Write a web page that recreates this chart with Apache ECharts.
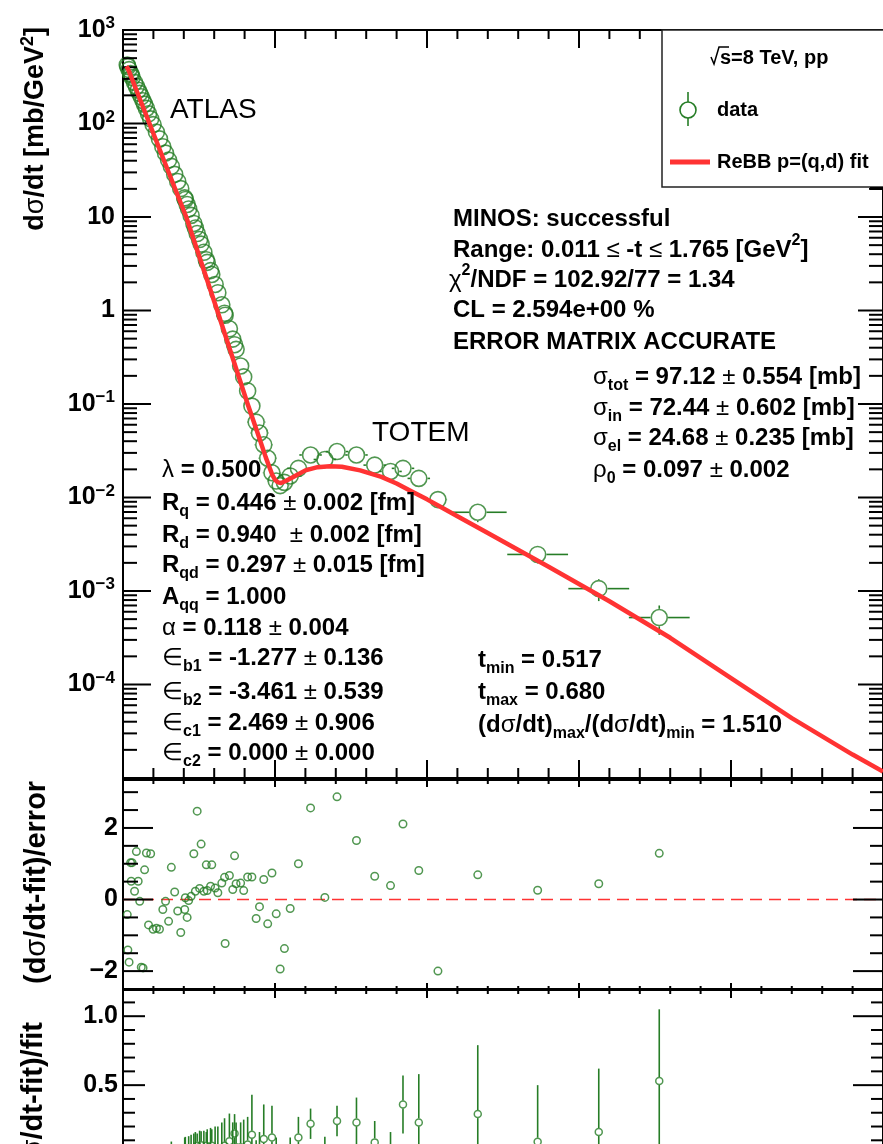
<!DOCTYPE html>
<html><head><meta charset="utf-8">
<script src="https://cdn.jsdelivr.net/npm/echarts@6/dist/echarts.min.js"></script>
<style>html,body{margin:0;padding:0;background:#fff}#c{width:883px;height:1144px}</style>
</head><body><div id="c"></div>
<script>
// ---------------- data ----------------
// -t [GeV^2] of each measured point
const tData = [0.014,0.016,0.020,0.025,0.027,0.030,0.038,0.044,0.050,0.055,
0.060,0.066,0.071,0.077,0.084,0.091,0.099,0.110,0.120,0.131,
0.140,0.150,0.159,0.170,0.180,0.190,0.203,0.205,0.211,0.216,
0.224,0.233,0.238,0.244,0.252,0.257,0.266,0.274,0.277,0.288,
0.292,0.303,0.312,0.325,0.334,0.336,0.350,0.361,0.367,0.372,
0.387,0.397,0.410,0.424,0.438,0.449,0.463,0.476,0.490,0.504,
0.517,0.531,0.550,0.577,0.617,0.664,0.704,0.768,0.828,0.880,
0.921,0.973,1.036,1.167,1.364,1.565,1.764];
// dsigma/dt [mb/GeV^2]
const dsdt = [423,406,377,342,330,311,275,250,227,210,
193,175,161,145,127,112,97.3,80.9,68.4,56.4,
48.2,40.6,34.8,28.6,24.0,20.1,16.0,15.4,13.6,12.2,
10.4,8.53,7.62,6.65,5.74,5.13,4.19,3.49,3.27,2.67,
2.43,1.90,1.55,1.15,0.933,0.891,0.637,0.494,0.431,0.384,
0.255,0.195,0.138,0.095,0.064,0.049,0.0367,0.0263,0.0184,0.0150,
0.0134,0.0145,0.0170,0.0205,0.0285,0.0255,0.031,0.0285,0.0222,0.019,
0.0205,0.016,0.0095,0.00695,0.00246,0.00106,0.00052];
const dsdtErr = [13,12,11,10,10,9,8,7,6,6,
5,5,4,4,3.3,2.9,2.5,2.0,1.7,1.4,
1.1,0.95,0.8,0.65,0.53,0.44,0.35,0.33,0.29,0.26,
0.22,0.18,0.16,0.14,0.12,0.11,0.09,0.07,0.07,0.055,
0.05,0.04,0.032,0.024,0.02,0.019,0.014,0.011,0.01,0.009,
0.007,0.006,0.005,0.004,0.004,0.0035,0.003,0.0025,0.0022,0.002,
0.0019,0.002,0.002,0.0022,0.0025,0.0025,0.003,0.003,0.0025,0.0022,
0.0025,0.0022,0.0012,0.0015,0.0005,0.00028,0.00018];
const tErr = [0,0,0,0,0,0,0,0,0,0,
0,0,0,0,0,0,0,0,0,0,
0,0,0,0,0,0,0,0,0,0,
0,0,0,0,0,0,0,0,0,0,
0,0,0,0,0,0,0,0,0,0,
0,0,0,0,0.03,0.03,0.03,0.03,0.03,0.03,
0.03,0.03,0.037,0.037,0.037,0.037,0.037,0.037,0.037,0.037,
0.037,0.037,0.03,0.095,0.1,0.1,0.1];
// (dsigma/dt - fit)/error
const pull = [-0.42,-1.41,-1.75,1.03,0.51,1.03,0.23,1.34,0.51,-0.05,
-1.89,-1.91,0.83,1.30,-0.71,1.28,-0.83,-0.80,-0.83,-0.28,
-0.05,-0.61,0.90,0.21,-0.32,-0.92,-0.28,0.05,-0.50,-0.03,
0.09,1.28,0.23,2.47,0.31,1.55,0.23,0.97,0.25,0.37,
0.97,0.32,0.19,0.46,0.62,-1.23,0.67,0.28,1.22,0.44,
0.46,0.25,0.63,0.63,-0.53,-0.20,0.56,-0.68,0.74,-0.40,
-1.94,-1.37,-0.25,1.00,2.56,0.06,2.87,1.65,0.65,0.39,
2.11,0.81,-2.00,0.69,0.26,0.44,1.29];
// (dsigma/dt - fit)/fit and its error
const relDiff = [-0.01,-0.03,-0.035,0.02,0.01,0.02,0.005,0.03,0.012,-0.001,
-0.05,-0.05,0.022,0.036,-0.02,0.04,-0.027,-0.028,-0.03,-0.011,
-0.002,-0.028,0.043,0.01,-0.017,-0.05,-0.03,0.005,-0.05,0,
0.01,0.04,0.02,0.06,0.03,0.065,0.02,0.06,0.02,0.03,
0.06,0.03,0.02,0.04,0.06,-0.1,0.094,0.03,0.15,0.05,
0.05,0.03,0.07,0.14,-0.1,-0.04,0.11,-0.15,0.12,-0.08,
-0.3,-0.25,-0.04,0.12,0.22,0.005,0.24,0.23,0.085,0.04,
0.36,0.23,-0.35,0.29,0.09,0.16,0.53];
const relErr = [0.02,0.02,0.02,0.02,0.02,0.02,0.02,0.022,0.023,0.025,
0.025,0.026,0.027,0.028,0.03,0.031,0.033,0.035,0.038,0.04,
0.043,0.046,0.048,0.05,0.053,0.056,0.15,0.12,0.12,0.13,
0.13,0.11,0.14,0.09,0.14,0.1,0.15,0.1,0.16,0.16,
0.12,0.17,0.18,0.19,0.2,0.12,0.2,0.2,0.14,0.18,
0.18,0.22,0.2,0.29,0.2,0.2,0.25,0.22,0.23,0.2,
0.15,0.18,0.16,0.15,0.11,0.12,0.11,0.18,0.155,0.12,
0.21,0.35,0.17,0.5,0.41,0.46,0.52];
// ReBB fit curve
const fitT = [0.011,0.016,0.05,0.10,0.15,0.208,0.26,0.31,0.36,0.41,0.44,0.47,0.49,0.50,0.51,0.52,0.535,0.56,0.60,0.64,0.68,0.72,0.78,0.85,0.90,0.95,1.00,1.041,1.1,1.2,1.4,1.6,1.8,2.0,2.2,2.4,2.5];
const fitV = [410,388,203,78.2,30.1,10,3.09,1.0,0.316,0.1,0.0522,0.0267,0.0178,0.0155,0.0145,0.0143,0.0150,0.0166,0.0195,0.0211,0.0216,0.0213,0.0195,0.0166,0.0141,0.0116,0.00955,0.00805,0.0063,0.00417,0.00182,7.76e-4,3.16e-4,1.17e-4,4.37e-5,1.78e-5,1.17e-5];

// ---------------- styling ----------------
const FF = "'Liberation Sans', Arial, Helvetica, sans-serif";
const GREEN = '#267d26';
const RED = '#ff3333';

// ---------------- tick definitions (ROOT-like frame ticks) ----------------
const mainTicks = [];
for (let k = 0; k <= 25; k++) {
  const v = k / 10, maj = k % 5 === 0;
  mainTicks.push({ax:'x', v, side:'b', len: maj ? 18 : 10});
  mainTicks.push({ax:'x', v, side:'t', len: maj ? 18 : 9});
}
for (let e = -5; e <= 2; e++) for (let m = 1; m <= 9; m++) {
  const v = m * Math.pow(10, e);
  mainTicks.push({ax:'y', v, side:'l', len: m === 1 ? 28 : 14});
  mainTicks.push({ax:'y', v, side:'r', len: m === 1 ? 25 : 14});
}
mainTicks.push({ax:'y', v:1000, side:'l', len:28}, {ax:'y', v:1000, side:'r', len:25});

const resTicks = [];
for (let k = 0; k <= 25; k++) {
  const v = k / 10, maj = k % 5 === 0;
  resTicks.push({ax:'x', v, side:'t', len: maj ? 7 : 4});
  resTicks.push({ax:'x', v, side:'b', len: maj ? 6 : 3});
}
for (let k = -5; k <= 6; k++) {
  const v = k * 0.5, maj = k % 4 === 0;
  resTicks.push({ax:'y', v, side:'l', len: maj ? 30 : 15});
  resTicks.push({ax:'y', v, side:'r', len: maj ? 30 : 13});
}

const botTicks = [];
for (let k = 0; k <= 25; k++) {
  const v = k / 10, maj = k % 5 === 0;
  botTicks.push({ax:'x', v, side:'t', len: maj ? 8 : 4});
}
for (let k = -10; k <= 11; k++) {
  const v = k / 10, maj = k % 5 === 0;
  botTicks.push({ax:'y', v, side:'l', len: maj ? 22 : 12});
  botTicks.push({ax:'y', v, side:'r', len: maj ? 30 : 12});
}

function tickSeries(specs, gi, logY) {
  return {
    type: 'custom', xAxisIndex: gi, yAxisIndex: gi, silent: true, z: 4, clip: false,
    data: specs.map(s => [s.ax === 'x' ? s.v : 0.5, s.ax === 'y' ? s.v : (logY ? 1 : 0)]),
    encode: {x: 0, y: 1},
    renderItem: function (params, api) {
      const s = specs[params.dataIndex];
      const cs = params.coordSys;
      let shape;
      if (s.ax === 'x') {
        const px = api.coord([s.v, logY ? 1 : 0])[0];
        if (s.side === 'b') { const yb = cs.y + cs.height; shape = {x1: px, y1: yb, x2: px, y2: yb - s.len}; }
        else shape = {x1: px, y1: cs.y, x2: px, y2: cs.y + s.len};
      } else {
        const py = api.coord([0.5, s.v])[1];
        if (s.side === 'l') shape = {x1: cs.x, y1: py, x2: cs.x + s.len, y2: py};
        else { const xr = cs.x + cs.width; shape = {x1: xr, y1: py, x2: xr - s.len, y2: py}; }
      }
      return {type: 'line', shape, style: {stroke: '#000', lineWidth: 2}};
    }
  };
}

function errSeries(gi, xs, ys, ey, ex, r, isLog) {
  return {
    type: 'custom', xAxisIndex: gi, yAxisIndex: gi, silent: true, z: 3, clip: true,
    data: xs.map((t, i) => [t, ys[i]]),
    encode: {x: 0, y: 1},
    renderItem: function (params, api) {
      const i = params.dataIndex;
      const x = api.value(0), y = api.value(1);
      const c = api.coord([x, y]);
      const kids = [];
      const st = {stroke: GREEN, lineWidth: 1.6};
      const e1 = ey ? (ey[i] || 0) : 0, e2 = ex ? (ex[i] || 0) : 0;
      if (e1 > 0) {
        const top = api.coord([x, y + e1])[1];
        const lo = y - e1;
        const bot = (!isLog || lo > 0) ? api.coord([x, lo])[1] : c[1] + 2000;
        if (c[1] - top > r) kids.push({type: 'line', shape: {x1: c[0], y1: top, x2: c[0], y2: c[1] - r}, style: st});
        if (bot - c[1] > r) kids.push({type: 'line', shape: {x1: c[0], y1: c[1] + r, x2: c[0], y2: bot}, style: st});
      }
      if (e2 > 0) {
        const L = api.coord([x - e2, y])[0], R = api.coord([x + e2, y])[0];
        if (c[0] - L > r) kids.push({type: 'line', shape: {x1: L, y1: c[1], x2: c[0] - r, y2: c[1]}, style: st});
        if (R - c[0] > r) kids.push({type: 'line', shape: {x1: c[0] + r, y1: c[1], x2: R, y2: c[1]}, style: st});
      }
      return {type: 'group', children: kids};
    }
  };
}

// ---------------- text helpers ----------------
const RICH = {
  b:   {fontFamily: FF, fontSize: 24, fontWeight: 'bold', fill: '#000', lineHeight: 34},
  s:   {fontFamily: FF, fontSize: 24, fontWeight: 'normal', fill: '#000', lineHeight: 34},
  sub: {fontFamily: FF, fontSize: 16, fontWeight: 'bold', fill: '#000', lineHeight: 14, verticalAlign: 'bottom'},
  sup: {fontFamily: FF, fontSize: 16, fontWeight: 'bold', fill: '#000', lineHeight: 14, verticalAlign: 'top'}
};
const RICH_T = {
  b:   {fontFamily: FF, fontSize: 27, fontWeight: 'bold', fill: '#000', lineHeight: 34},
  s:   {fontFamily: FF, fontSize: 27, fontWeight: 'normal', fill: '#000', lineHeight: 34},
  sup: {fontFamily: FF, fontSize: 18, fontWeight: 'bold', fill: '#000', lineHeight: 14, verticalAlign: 'top'}
};
const RICH_T2 = {
  b:   {fontFamily: FF, fontSize: 29, fontWeight: 'bold', fill: '#000', lineHeight: 34},
  s:   {fontFamily: FF, fontSize: 29, fontWeight: 'normal', fill: '#000', lineHeight: 34}
};
function txt(x, y, text, rich, extra) {
  return Object.assign({
    type: 'text', x, y, z: 50, silent: true,
    style: {text, rich: rich || RICH, align: 'left', verticalAlign: 'middle',
            fontFamily: FF, fontSize: 24, fontWeight: 'bold', fill: '#000'}
  }, extra || {});
}
function plain(x, y, text, size, weight) {
  return {type: 'text', x, y, z: 50, silent: true,
    style: {text, fontFamily: FF, fontSize: size, fontWeight: weight, fill: '#000', align: 'left', verticalAlign: 'middle'}};
}

const graphics = [
  // axis titles
  txt(36, 27, '', RICH_T, {rotation: Math.PI / 2, style: {text: '{b|d}{s|σ}{b|/dt [mb/GeV}{sup|2}{b|]}', rich: RICH_T, align: 'right', verticalAlign: 'middle'}}),
  txt(37, 984, '', RICH_T2, {rotation: Math.PI / 2, style: {text: '{b|(d}{s|σ}{b|/dt-fit)/error}', rich: RICH_T2, align: 'left', verticalAlign: 'middle'}}),
  {type: 'rect', z: 51, silent: true, shape: {x: 10, y: 760, width: 60, height: 19}, style: {fill: '#fff'}},
  txt(34, 1022, '', RICH_T2, {rotation: Math.PI / 2, style: {text: '{b|(d}{s|σ}{b|/dt-fit)/fit}', rich: RICH_T2, align: 'right', verticalAlign: 'middle'}}),
  // labels
  plain(170, 110, 'ATLAS', 28, 'normal'),
  plain(372, 433, 'TOTEM', 28, 'normal'),
  // fit info block
  txt(453, 219, '{b|MINOS: successful}'),
  txt(453, 250, '{b|Range: 0.011 }{s|≤}{b| -t }{s|≤}{b| 1.765 [GeV}{sup|2}{b|]}'),
  txt(449, 280, '{s|χ}{sup|2}{b|/NDF = 102.92/77 = 1.34}'),
  txt(453, 310, '{b|CL = 2.594e+00 %}'),
  txt(453, 342, '{b|ERROR MATRIX ACCURATE}'),
  txt(593, 377, '{s|σ}{sub|tot}{b| = 97.12 }{s|±}{b| 0.554 [mb]}'),
  txt(593, 408, '{s|σ}{sub|in}{b| = 72.44 }{s|±}{b| 0.602 [mb]}'),
  txt(593, 438, '{s|σ}{sub|el}{b| = 24.68 }{s|±}{b| 0.235 [mb]}'),
  txt(593, 470, '{s|ρ}{sub|0}{b| = 0.097 }{s|±}{b| 0.002}'),
  // parameters block
  txt(162, 470, '{s|λ}{b| = 0.500}'),
  txt(162, 503, '{b|R}{sub|q}{b| = 0.446 }{s|±}{b| 0.002 [fm]}'),
  txt(162, 535, '{b|R}{sub|d}{b| = 0.940  }{s|±}{b| 0.002 [fm]}'),
  txt(162, 565, '{b|R}{sub|qd}{b| = 0.297 }{s|±}{b| 0.015 [fm]}'),
  txt(162, 597, '{b|A}{sub|qq}{b| = 1.000}'),
  txt(162, 628, '{s|α}{b| = 0.118 }{s|±}{b| 0.004}'),
  txt(162, 658, '{s|∈}{sub|b1}{b| = -1.277 }{s|±}{b| 0.136}'),
  txt(162, 692, '{s|∈}{sub|b2}{b| = -3.461 }{s|±}{b| 0.539}'),
  txt(162, 723, '{s|∈}{sub|c1}{b| = 2.469 }{s|±}{b| 0.906}'),
  txt(162, 753, '{s|∈}{sub|c2}{b| = 0.000 }{s|±}{b| 0.000}'),
  // dip / bump block
  txt(478, 660, '{b|t}{sub|min}{b| = 0.517}'),
  txt(478, 692, '{b|t}{sub|max}{b| = 0.680}'),
  txt(478, 725, '{b|(d}{s|σ}{b|/dt)}{sub|max}{b|/(d}{s|σ}{b|/dt)}{sub|min}{b| = 1.510}'),
  // legend
  {type: 'rect', z: 60, silent: true, shape: {x: 662, y: 30, width: 240, height: 157}, style: {fill: '#fff', stroke: '#222', lineWidth: 1.5}},
  {type: 'rect', z: 60, silent: true, shape: {x: 870, y: 187, width: 14, height: 3}, style: {fill: '#000'}},
  {type: 'polyline', z: 61, silent: true, shape: {points: [[711, 57], [714, 64], [719, 47], [729, 47]]}, style: {stroke: '#000', lineWidth: 1.5, fill: null}},
  Object.assign(plain(720, 58, 's=8 TeV, pp', 20, 'bold'), {z: 61}),
  {type: 'circle', z: 61, silent: true, shape: {cx: 688, cy: 110, r: 8}, style: {fill: 'none', stroke: GREEN, lineWidth: 1.6}},
  {type: 'line', z: 61, silent: true, shape: {x1: 688, y1: 92, x2: 688, y2: 102}, style: {stroke: GREEN, lineWidth: 1.6}},
  {type: 'line', z: 61, silent: true, shape: {x1: 688, y1: 118, x2: 688, y2: 126}, style: {stroke: GREEN, lineWidth: 1.6}},
  Object.assign(plain(717, 110, 'data', 20, 'bold'), {z: 61}),
  {type: 'line', z: 61, silent: true, shape: {x1: 670, y1: 162, x2: 710, y2: 162}, style: {stroke: RED, lineWidth: 5}},
  Object.assign(plain(717, 162, 'ReBB p=(q,d) fit', 20, 'bold'), {z: 61})
];

// ---------------- chart ----------------
const chart = echarts.init(document.getElementById('c'), null, {renderer: 'canvas'});
const gridBase = {left: 123, width: 760, show: true, borderColor: '#000', borderWidth: 2, backgroundColor: 'transparent', containLabel: false, outerBoundsMode: 'none'};
const xBase = {type: 'value', min: 0, max: 2.5, axisLine: {show: false}, axisTick: {show: false}, axisLabel: {show: false}, splitLine: {show: false}};
const lblBase = {fontFamily: FF, fontSize: 25, fontWeight: 'bold', color: '#000'};

chart.setOption({
  animation: false,
  backgroundColor: '#fff',
  textStyle: {fontFamily: FF},
  grid: [
    Object.assign({}, gridBase, {top: 30, height: 748}),
    Object.assign({}, gridBase, {top: 780, height: 209}),
    Object.assign({}, gridBase, {top: 990, height: 302})
  ],
  xAxis: [
    Object.assign({}, xBase, {gridIndex: 0}),
    Object.assign({}, xBase, {gridIndex: 1}),
    Object.assign({}, xBase, {gridIndex: 2})
  ],
  yAxis: [
    {type: 'log', gridIndex: 0, logBase: 10, min: 1e-5, max: 1e3, splitNumber: 8,
     axisLine: {show: false}, axisTick: {show: false}, splitLine: {show: false},
     axisLabel: {margin: 8, formatter: function (v) {
        const e = Math.round(Math.log10(v));
        if (Math.abs(Math.log10(v) - e) > 0.01 || e === -5) return '';
        if (e === 0) return '{b|1}';
        if (e === 1) return '{b|10}';
        return '{b|10}{sup|' + (e < 0 ? '−' : '') + Math.abs(e) + '}';
      },
      rich: {b: Object.assign({lineHeight: 30}, lblBase),
             sup: {fontFamily: FF, fontSize: 17, fontWeight: 'bold', color: '#000', lineHeight: 16, verticalAlign: 'top'}}}},
    {type: 'value', gridIndex: 1, min: -2.5, max: 3.34, interval: 0.5,
     axisLine: {show: false}, axisTick: {show: false}, splitLine: {show: false},
     axisLabel: Object.assign({margin: 5, formatter: function (v) {
        if (Math.abs(v - 2) < 1e-6) return '2';
        if (Math.abs(v) < 1e-6) return '0';
        if (Math.abs(v + 2) < 1e-6) return '−2';
        return '';
      }}, lblBase)},
    {type: 'value', gridIndex: 2, min: -1.0, max: 1.19, interval: 0.1,
     axisLine: {show: false}, axisTick: {show: false}, splitLine: {show: false},
     axisLabel: Object.assign({margin: 5, formatter: function (v) {
        const k = Math.round(v * 10);
        if (Math.abs(v * 10 - k) > 1e-6 || k % 5 !== 0 || k < 5) return '';
        return Math.abs(v).toFixed(1);
      }}, lblBase)}
  ],
  series: [
    // main panel
    {type: 'scatter', xAxisIndex: 0, yAxisIndex: 0, silent: true, z: 3,
     data: tData.map((t, i) => [t, dsdt[i]]), symbol: 'circle', symbolSize: 16,
     itemStyle: {color: 'rgba(0,0,0,0)', borderColor: GREEN, borderWidth: 1.6}},
    errSeries(0, tData, dsdt, dsdtErr, tErr, 8.8, true),
    {type: 'line', xAxisIndex: 0, yAxisIndex: 0, silent: true, z: 5, showSymbol: false, symbol: 'none',
     smooth: false, clip: true,
     data: fitT.map((t, i) => [t, fitV[i]]), lineStyle: {color: RED, width: 4.5, join: 'round'}},
    tickSeries(mainTicks, 0, true),
    // residual (pull) panel
    {type: 'line', xAxisIndex: 1, yAxisIndex: 1, silent: true, z: 2, symbol: 'none',
     data: [[0, 0], [2.5, 0]], lineStyle: {color: RED, width: 1.5, type: [12, 7]}},
    {type: 'scatter', xAxisIndex: 1, yAxisIndex: 1, silent: true, z: 3,
     data: tData.map((t, i) => [t, pull[i]]), symbol: 'circle', symbolSize: 7.5,
     itemStyle: {color: 'rgba(0,0,0,0)', borderColor: GREEN, borderWidth: 1.5}},
    tickSeries(resTicks, 1, false),
    // relative difference panel
    {type: 'line', xAxisIndex: 2, yAxisIndex: 2, silent: true, z: 2, symbol: 'none',
     data: [[0, 0], [2.5, 0]], lineStyle: {color: RED, width: 1.5, type: [12, 7]}},
    errSeries(2, tData, relDiff, relErr, null, 4, false),
    {type: 'scatter', xAxisIndex: 2, yAxisIndex: 2, silent: true, z: 3,
     data: tData.map((t, i) => [t, relDiff[i]]), symbol: 'circle', symbolSize: 7,
     itemStyle: {color: 'rgba(0,0,0,0)', borderColor: GREEN, borderWidth: 1.5}},
    tickSeries(botTicks, 2, false)
  ],
  graphic: {elements: graphics}
});
</script>
</body></html>
